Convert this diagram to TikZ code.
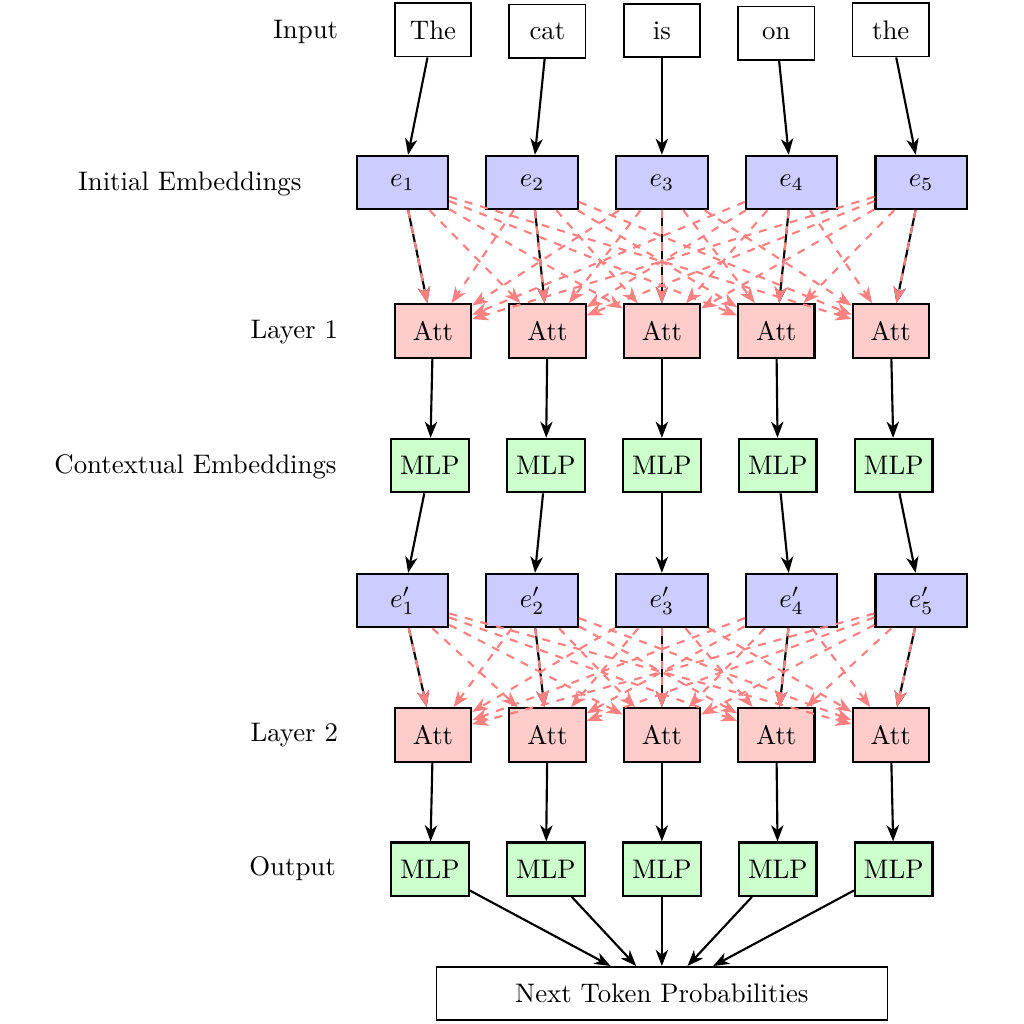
\documentclass[tikz,border=0pt]{standalone}
\usepackage{amsmath,amssymb}
\usepackage{tikz}
\usepackage{xcolor}
\usetikzlibrary{arrows.meta}

\begin{document}
\begin{tikzpicture}[>={Stealth[length=6pt,width=4.6pt,inset=1.8pt]},
  token/.style={draw, semithick, minimum width=1cm, minimum height=0.7cm},
  emb/.style={draw, thick, fill=blue!20, minimum width=1.2cm, minimum height=0.7cm},
  att/.style={draw, thick, fill=red!20, minimum width=1cm, minimum height=0.7cm},
  mlp/.style={draw, thick, fill=green!20, minimum width=1cm, minimum height=0.7cm},
  lbl/.style={anchor=east},
  flow/.style={->, thick},
  attn/.style={->, thick, dashed, red!50}]
\useasboundingbox (-8.676,0.393) rectangle (4.744,-13.03);
\foreach \w [count=\i] in {The,cat,is,on,the}
  \node[token, anchor=base] (in\i) at ({(\i-3)*1.5}, -0.12) {\w};
\foreach \i in {1,...,5} {
  \node[emb] (e\i) at ({(\i-3)*1.7}, -2) {$e_{\i}$};
  \node[att] (a\i) at ({(\i-3)*1.5}, -3.945) {Att};
  \node[mlp] (m\i) at ({(\i-3)*1.52}, -5.71) {MLP};
  \node[emb] (f\i) at ({(\i-3)*1.7}, -7.48) {$e'_{\i}$};
  \node[att] (b\i) at ({(\i-3)*1.5}, -9.24) {Att};
  \node[mlp] (o\i) at ({(\i-3)*1.52}, -11.0) {MLP};
}
\node[token, minimum width=5.91cm] (next) at (0,-12.63) {Next Token Probabilities};
\node[lbl] (linput) at (-4.12,-0.03) {Input};
\node[lbl] (lemb) at (-4.60,-2.02) {Initial Embeddings};
\node[lbl] (layer1) at (-4.12,-3.96) {Layer 1};
\node[lbl] (lctx) at (-4.14,-5.73) {Contextual Embeddings};
\node[lbl] (layer2) at (-4.12,-9.24) {Layer 2};
\node[lbl] (lout) at (-4.15,-10.99) {Output};
\foreach \i in {1,...,5} {
  \draw[flow] (in\i) -- (e\i);
  \draw[flow] (e\i) -- (a\i);
  \draw[flow] (a\i) -- (m\i);
  \draw[flow] (m\i) -- (f\i);
  \draw[flow] (f\i) -- (b\i);
  \draw[flow] (b\i) -- (o\i);
  \draw[flow] (o\i) -- (next);
}
\foreach \i in {1,...,5}
  \foreach \j in {1,...,5} {
    \draw[attn] (e\i) -- (a\j);
    \draw[attn] (f\i) -- (b\j);
  }
\end{tikzpicture}
\end{document}
